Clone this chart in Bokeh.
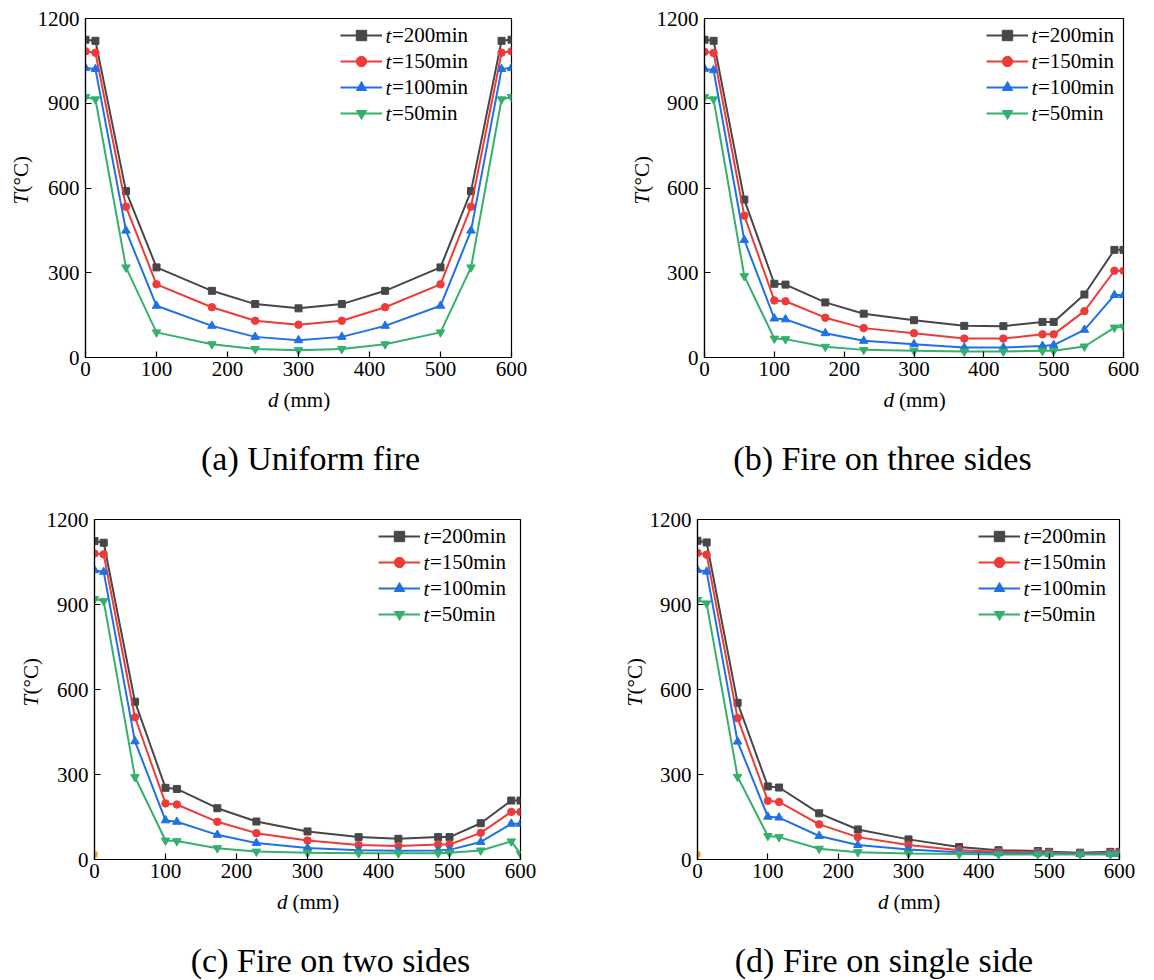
import math
from bokeh.plotting import figure
from bokeh.models import Range1d, FixedTicker, Label, Legend, LegendItem
from bokeh.layouts import column, row
from bokeh.embed import file_html
from bokeh.resources import INLINE

FONT = "Liberation Serif"

# ---------------- data ----------------
x_ticks = [0, 100, 200, 300, 400, 500, 600]
y_ticks = [0, 300, 600, 900, 1200]
legend_labels = ["=200min", "=150min", "=100min", "=50min"]
colors = ["#474747", "#ef3a3a", "#2070e6", "#35b06c"]
markers = ["square", "circle", "triangle", "inverted_triangle"]
marker_sizes = [7, 7.5, 8.5, 8.5]

# (a) Uniform fire
d_a = [0, 14, 57, 100, 178, 239, 300, 361, 422, 500, 543, 586, 600]
a_t200 = [1125, 1121, 589, 319, 236, 189, 174, 189, 236, 319, 589, 1121, 1125]
a_t150 = [1084, 1079, 534, 259, 178, 130, 116, 130, 178, 259, 534, 1079, 1084]
a_t100 = [1025, 1021, 449, 183, 112, 73, 61, 73, 112, 183, 449, 1021, 1025]
a_t50 = [922, 914, 319, 89, 47, 30, 26, 30, 47, 89, 319, 914, 922]

# positions used by (b), (c), (d)
d_bcd = [0, 13, 57, 100, 116, 173, 228, 300, 372, 428, 484, 500, 544, 587, 600]

# (b) Fire on three sides
b_t200 = [1125, 1121, 559, 261, 258, 195, 155, 132, 112, 111, 126, 126, 223, 381, 381]
b_t150 = [1082, 1078, 502, 202, 199, 141, 104, 86, 67, 67, 82, 82, 164, 307, 307]
b_t100 = [1022, 1017, 416, 138, 135, 86, 59, 47, 35, 35, 41, 44, 98, 221, 221]
b_t50 = [922, 914, 288, 67, 65, 38, 27, 24, 21, 21, 24, 24, 39, 106, 109]

# (c) Fire on two sides
c_t200 = [1124, 1118, 557, 253, 249, 181, 134, 99, 79, 73, 79, 79, 128, 208, 208]
c_t150 = [1080, 1077, 502, 198, 194, 133, 93, 67, 51, 48, 53, 53, 94, 168, 168]
c_t100 = [1021, 1015, 417, 138, 133, 87, 58, 41, 33, 31, 32, 34, 62, 126, 126]
c_t50 = [919, 912, 291, 67, 65, 40, 28, 24, 22, 22, 22, 24, 32, 64, 20]

# (d) Fire on single side
d_t200 = [1125, 1119, 553, 258, 254, 163, 106, 71, 44, 33, 30, 27, 24, 27, 27]
d_t150 = [1082, 1076, 499, 207, 203, 124, 79, 51, 33, 27, 25, 24, 21, 24, 24]
d_t100 = [1022, 1016, 416, 151, 148, 83, 51, 35, 26, 22, 21, 20, 20, 20, 20]
d_t50 = [916, 904, 292, 83, 79, 38, 26, 21, 19, 18, 18, 18, 18, 18, 18]

# small stray point at the origin in (c) and (d)
stray_x = [0]
stray_y = [18]

captions = ["(a) Uniform fire", "(b) Fire on three sides",
            "(c) Fire on two sides", "(d) Fire on single side"]

BL = 48      # main figure left border (y tick labels)
BB = 29      # main figure bottom border (x tick labels)


def blank(W, H):
    f = figure(width=W, height=H, x_range=Range1d(0, 1), y_range=Range1d(0, 1),
               x_axis_type=None, y_axis_type=None, output_backend="svg",
               toolbar_location=None, min_border_left=0, min_border_right=0,
               min_border_top=0, min_border_bottom=0)
    f.outline_line_color = None
    f.grid.visible = False
    f.background_fill_color = "white"
    f.border_fill_color = "white"
    return f


def lab(text, x, y, size="21px", italic=False, align="left", angle=0.0):
    return Label(x=x, y=y, x_units="screen", y_units="screen", text=text, angle=angle,
                 text_font=FONT, text_font_size=size,
                 text_font_style="italic" if italic else "normal",
                 text_baseline="middle", text_align=align, text_color="black")


def make_panel(xs, ys_list, PW, PH, ylw, ylc, top, fh, br, leg_x, caption, cap_cx,
               stray=False):
    MW = PW - ylw
    MH = top + fh + BB
    fw = MW - BL - br
    p = figure(width=MW, height=MH, x_range=Range1d(0, 600), y_range=Range1d(0, 1200),
               output_backend="svg", toolbar_location=None,
               min_border_left=BL, min_border_right=br,
               min_border_top=top, min_border_bottom=BB)
    p.grid.visible = False
    p.outline_line_color = "black"
    p.outline_line_width = 1.2
    p.background_fill_color = "white"
    p.border_fill_color = "white"
    for ax in (p.xaxis, p.yaxis):
        ax.major_tick_in = 6
        ax.major_tick_out = 0
        ax.minor_tick_line_color = None
        ax.axis_line_width = 1.2
        ax.axis_line_color = "black"
        ax.major_tick_line_color = "black"
        ax.major_tick_line_width = 1.2
        ax.major_label_text_font = FONT
        ax.major_label_text_font_size = "21px"
        ax.major_label_text_color = "black"
    p.xaxis.ticker = FixedTicker(ticks=x_ticks)
    p.yaxis.ticker = FixedTicker(ticks=y_ticks)
    p.xaxis.major_label_standoff = 4
    p.yaxis.major_label_standoff = 6

    items = []
    for ys, lb, col, mk, ms in zip(ys_list, legend_labels, colors, markers, marker_sizes):
        rl = p.line(xs, ys, line_color=col, line_width=2)
        rs = p.scatter(xs, ys, marker=mk, size=ms, fill_color=col, line_color=col)
        items.append(LegendItem(label=lb, renderers=[rl, rs]))

    if stray:
        p.scatter(stray_x, stray_y, marker="square", size=5, fill_color="#f0a020",
                  line_color="#f0a020")

    gw, rh = 42, 26
    leg_h = rh * 4
    leg_y = fh - 4 - leg_h
    legend = Legend(items=items, location=(leg_x, leg_y), glyph_width=gw,
                    glyph_height=rh, label_height=rh, spacing=0, padding=0, margin=0,
                    label_standoff=10, border_line_color=None, background_fill_alpha=0,
                    label_text_font=FONT, label_text_font_size="21px",
                    label_text_color="black")
    p.add_layout(legend)
    for i in range(4):
        p.add_layout(lab("t", leg_x + gw + 3, leg_y + leg_h - rh / 2 - rh * i, italic=True))

    # y label figure: T(°C)
    yl = blank(ylw, MH)
    yl.add_layout(lab("T", ylc, BB + 124, italic=True, angle=math.pi / 2))
    yl.add_layout(lab("(°C)", ylc, BB + 136, angle=math.pi / 2))

    # bottom figure: d (mm) and caption
    BH = PH - MH
    bt = blank(PW, BH)
    frame_left = ylw + BL
    cx = frame_left + fw / 2 + 2
    x0 = cx - 31
    xl_y = BH - ((top + fh + 42) - MH)
    bt.add_layout(lab("d", x0, xl_y, italic=True))
    bt.add_layout(lab("(mm)", x0 + 15.5, xl_y))
    cap_y = BH - ((top + fh + 104 - 2.7) - MH)
    bt.add_layout(lab(caption, cap_cx, cap_y, size="34px", align="center"))

    return column(row(yl, p), bt)


pa = make_panel(d_a, [a_t200, a_t150, a_t100, a_t50], 600, 500, 34, 20.6, 18, 339, 89,
                255, captions[0], 310)
pb = make_panel(d_bcd, [b_t200, b_t150, b_t100, b_t50], 554, 500, 53, 41.4, 18, 339, 31,
                282, captions[1], 282)
pc = make_panel(d_bcd, [c_t200, c_t150, c_t100, c_t50], 600, 480, 43, 30.0, 19, 340, 80,
                284, captions[2], 330, stray=True)
pd_ = make_panel(d_bcd, [d_t200, d_t150, d_t100, d_t50], 554, 480, 46, 34.0, 19, 340, 35,
                 281, captions[3], 283.5, stray=True)

layout = column(row(pa, pb), row(pc, pd_))
open("out.html", "w").write(file_html(layout, INLINE))
